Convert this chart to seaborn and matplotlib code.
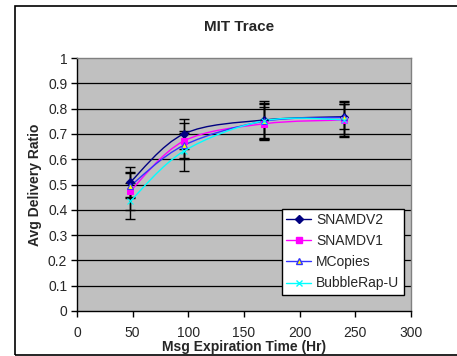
import numpy as np
import pandas as pd
import matplotlib
matplotlib.use('Agg')
import matplotlib.pyplot as plt
from matplotlib.path import Path
from matplotlib.patches import PathPatch, Rectangle
from matplotlib.lines import Line2D
import seaborn as sns

# data
expiration = [48, 96, 168, 240]
series_names = ['SNAMDV2', 'SNAMDV1', 'MCopies', 'BubbleRap-U']
snamdv2 = [0.51, 0.70, 0.755, 0.768]
snamdv1 = [0.475, 0.672, 0.740, 0.755]
mcopies = [0.495, 0.655, 0.750, 0.765]
bubblerap = [0.435, 0.632, 0.752, 0.756]
snamdv2_err = [0.06, 0.06, 0.075, 0.05]
snamdv1_err = [0.075, 0.07, 0.065, 0.065]
mcopies_err = [0.05, 0.05, 0.07, 0.065]
bubblerap_err = [0.07, 0.08, 0.07, 0.07]

values = [snamdv2, snamdv1, mcopies, bubblerap]
errors = [snamdv2_err, snamdv1_err, mcopies_err, bubblerap_err]

colors = ['#000080', '#FF00FF', '#3333FF', '#00FFFF']
markers = ['D', 's', '^', 'x']
mfaces = ['#000080', '#FF00FF', '#FFFF00', '#00FFFF']
msizes = [4.5, 5, 5, 5]

sns.set_style('white')
plt.rcParams['font.family'] = ['Liberation Sans', 'DejaVu Sans']

df = pd.DataFrame({
    'x': expiration * 4,
    'y': sum(values, []),
    'series': np.repeat(series_names, len(expiration)),
})

fig = plt.figure(figsize=(4.57, 3.56), dpi=100)
ax = fig.add_axes([77 / 457, 1 - 311 / 356, 334 / 457, 253 / 356])
ax.set_facecolor('#C0C0C0')

# outer chart border
fig.patches.append(Rectangle((15 / 457, 1 / 356), 1.0, 349 / 356, transform=fig.transFigure,
                             fill=False, edgecolor='black', lw=1.2, zorder=0))

for yv in np.arange(0.1, 1.0, 0.1):
    ax.axhline(yv, color='black', lw=0.9, zorder=1)


def smooth_path(xs, ys):
    pts = np.column_stack([xs, ys])
    n = len(pts)
    verts = [pts[0]]
    codes = [Path.MOVETO]
    for i in range(n - 1):
        p0 = pts[max(i - 1, 0)]
        p1 = pts[i]
        p2 = pts[i + 1]
        p3 = pts[min(i + 2, n - 1)]
        c1 = p1 + (p2 - p0) / 6
        c2 = p2 - (p3 - p1) / 6
        verts += [c1, c2, p2]
        codes += [Path.CURVE4] * 3
    return Path(verts, codes)


for name, vals, errs, c in zip(series_names, values, errors, colors):
    ax.errorbar(expiration, vals, yerr=errs, fmt='none', ecolor='black',
                elinewidth=1, capsize=3.5, capthick=1, zorder=2)

for name, vals, c in zip(series_names, values, colors):
    ax.add_patch(PathPatch(smooth_path(expiration, vals), facecolor='none',
                           edgecolor=c, lw=1, zorder=3))

for name, c, m, mf, ms in zip(series_names, colors, markers, mfaces, msizes):
    sub = df[df['series'] == name]
    sns.lineplot(data=sub, x='x', y='y', ax=ax, linestyle='', marker=m,
                 markersize=ms, markerfacecolor=mf, markeredgecolor=c,
                 color=c, zorder=4, legend=False)

ax.set_xlim(0, 300)
ax.set_ylim(0, 1)
ax.set_xticks(range(0, 301, 50))
ax.set_yticks(np.arange(0, 1.01, 0.1))
ax.set_yticklabels(['0'] + [f'{v:.1f}' for v in np.arange(0.1, 0.95, 0.1)] + ['1'])
ax.tick_params(axis='both', direction='out', length=4, width=1, color='black',
               labelsize=10, pad=3, bottom=True, left=True)
ax.tick_params(axis='x', pad=7)
for side in ['left', 'bottom']:
    ax.spines[side].set_color('black')
    ax.spines[side].set_linewidth(1)
for side in ['top', 'right']:
    ax.spines[side].set_color('#808080')
    ax.spines[side].set_linewidth(1)

ax.set_xlabel('Msg Expiration Time (Hr)', fontsize=10, fontweight='bold', labelpad=0)
ax.set_ylabel('Avg Delivery Ratio', fontsize=10, fontweight='bold', labelpad=4)
fig.text(239 / 457, 1 - 27 / 356, 'MIT Trace', fontsize=11, fontweight='bold',
         ha='center', va='center')

handles = [Line2D([], [], color=c, lw=1, marker=m, markersize=ms,
                  markerfacecolor=mf, markeredgecolor=c)
           for c, m, mf, ms in zip(colors, markers, mfaces, msizes)]
leg = ax.legend(handles, series_names, loc='lower right', bbox_to_anchor=(0.978, 0.065),
                frameon=True, fancybox=False, fontsize=10, handlelength=1.8,
                handletextpad=0.35, labelspacing=0.52, borderpad=0.3,
                borderaxespad=0)
leg.get_frame().set_edgecolor('black')
leg.get_frame().set_facecolor('white')
leg.get_frame().set_linewidth(1)
leg.get_frame().set_alpha(1)

fig.savefig('out.png', dpi=100)
